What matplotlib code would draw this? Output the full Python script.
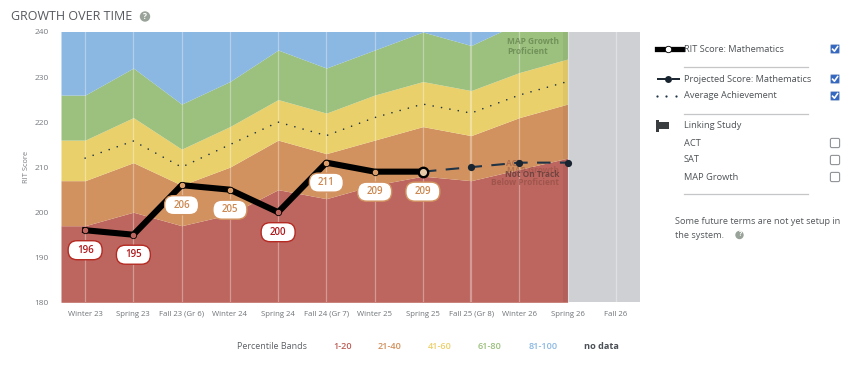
import numpy as np
import matplotlib
matplotlib.use('Agg')
import matplotlib.pyplot as plt
from matplotlib.patches import FancyBboxPatch, Circle, Rectangle, BoxStyle

plt.rcParams['font.family'] = ['Open Sans', 'DejaVu Sans']

# Data
terms = ['Winter 23', 'Spring 23', 'Fall 23 (Gr 6)', 'Winter 24', 'Spring 24', 'Fall 24 (Gr 7)',
         'Winter 25', 'Spring 25', 'Fall 25 (Gr 8)', 'Winter 26', 'Spring 26', 'Fall 26']
band_20 = [197, 200, 197, 199.5, 205, 203, 206, 208, 207, 209.5, 212]
band_40 = [207, 211, 206, 210, 216, 213, 216, 219, 217, 221, 224]
band_60 = [216, 221, 214, 219, 225, 222, 226, 229, 227, 231, 234]
band_80 = [226, 232, 224, 229, 236, 232, 236, 240, 237, 242, 245]
average = [212, 215.8, 210, 215, 220, 217, 221, 224, 222, 226, 229]
rit = [196, 195, 206, 205, 200, 211, 209, 209]
rit_band = ['r', 'r', 'o', 'o', 'r', 'o', 'o', 'o']
projected = [209, 210, 211, 211]

legend_bands = ['1-20', '21-40', '41-60', '61-80', '81-100', 'no data']
legend_colors = ['#bd5f58', '#d2905c', '#ecd06c', '#9cc07e', '#8ab8e2', '#4a4f55']
legend_x = [342.7, 390, 440, 490, 543, 601]

c_red, c_orange, c_yellow, c_green, c_blue = '#bd665f', '#d2925f', '#ead06b', '#9cc07e', '#8ab8e2'
c_gray = '#cfd0d4'
c_text = '#5c6166'
c_navy = '#1f3447'

fig = plt.figure(figsize=(8.5, 3.76), dpi=100)
ax = fig.add_axes([61 / 850, (376 - 302.3) / 376, 579 / 850, 270.3 / 376])

# bands run flat out to the left edge
n = len(band_20)
xs = np.r_[-0.5, np.arange(n)]
def ext(v):
    return np.r_[v[0], v]

# score labels are a fixed 34x19 pill whatever the text width
def pill(x0, y0, w, h, mutation_size):
    cx, cy = x0 + w / 2, y0 + h / 2
    return BoxStyle.Round(pad=0, rounding_size=9)(cx - 17, cy - 9.5, 34, 19, 1)

ax.fill_between(xs, 180, ext(band_20), color=c_red, lw=0, zorder=1)
ax.fill_between(xs, ext(band_20), ext(band_40), color=c_orange, lw=0, zorder=1)
ax.fill_between(xs, ext(band_40), ext(band_60), color=c_yellow, lw=0, zorder=1)
ax.fill_between(xs, ext(band_60), ext(band_80), color=c_green, lw=0, zorder=1)
ax.fill_between(xs, ext(band_80), 250, color=c_blue, lw=0, zorder=1)
ax.axvspan(n - 1, 11.5, color=c_gray, lw=0, zorder=1)
ax.axvspan(9.905, 10, color='black', alpha=0.05, lw=0, zorder=1.5)

for i in range(len(terms)):
    ax.axvline(i, color='white', alpha=0.35, lw=1.6 if i == 8 else 0.9, zorder=2)

# faint linking study labels behind the lines
ax.text(8.74, 237.9, 'MAP Growth', color='#5f7f4a', alpha=0.7, fontsize=6, fontweight='bold', va='center', ha='left', zorder=2.5)
ax.text(8.74, 235.6, 'Proficient', color='#5f7f4a', alpha=0.7, fontsize=6, fontweight='bold', va='center', ha='left', zorder=2.5)
ax.text(8.72, 210.7, 'ACT', color='#8c4a40', alpha=0.5, fontsize=6, fontweight='bold', va='center', ha='left', zorder=2.5)
ax.text(9.83, 209.2, 'MAP Growth', color='#8c4a40', alpha=0.45, fontsize=6, fontweight='bold', va='center', ha='right', zorder=2.5)
ax.text(9.83, 208.4, 'Not On Track', color='#5a3a36', alpha=0.75, fontsize=6, fontweight='bold', va='center', ha='right', zorder=2.5)
ax.text(9.83, 206.7, 'Below Proficient', color='#8c4a40', alpha=0.6, fontsize=6, fontweight='bold', va='center', ha='right', zorder=2.5)

ax.plot(range(n), average, color=c_navy, lw=1.2, dash_capstyle='round',
        linestyle=(0, (0.01, 5.1)), zorder=3)

px = np.arange(len(projected)) + len(rit) - 1
ax.plot(px, projected, color=c_navy, lw=1.5, linestyle=(0, (6.5, 4.5)), zorder=3)
ax.plot(px[1:], projected[1:], 'o', color='#18242f', ms=5.2, mew=0, zorder=3.5)

ax.plot(range(len(rit)), rit, color='black', lw=4.4, solid_joinstyle='round', zorder=4)
for i, v in enumerate(rit[:-1]):
    fc = c_red if rit_band[i] == 'r' else '#dc9f6c'
    ax.plot(i, v, 'o', ms=4.6, mfc=fc, mec='black', mew=0.6, zorder=5)
ax.plot(len(rit) - 1, rit[-1], 'o', ms=6.8, mfc='#e8c9a8', mec='black', mew=1.7, zorder=5)

for i, v in enumerate(rit):
    if rit_band[i] == 'r':
        edge, col = '#b52a22', '#b0191c'
    else:
        edge, col = '#d2925f', '#cc8850'
    ax.annotate(str(v), (i, v), xytext=(0, -14.4), textcoords='offset points', ha='center', va='center',
                color=col, fontsize=7, fontweight='semibold', zorder=6,
                bbox=dict(boxstyle=pill, fc='white', ec=edge, lw=1))

ax.set_xlim(-0.5, 11.5)
ax.set_ylim(180, 240)
ax.set_xticks(range(len(terms)))
ax.set_xticklabels(terms, fontsize=5.6, color='#6f7478')
ax.set_yticks(range(180, 241, 10))
ax.tick_params(axis='both', length=0)
ax.tick_params(axis='x', pad=6)
ax.tick_params(axis='y', labelsize=6, labelcolor='#777b80', pad=9)
for s in ax.spines.values():
    s.set_visible(False)

# everything around the chart sits on a pixel-sized overlay
ov = fig.add_axes([0, 0, 1, 1], zorder=-1)
ov.set_xlim(0, 850)
ov.set_ylim(376, 0)
ov.axis('off')

def help_icon(x, y, r, col):
    ov.add_patch(Circle((x, y), r, color=col, lw=0))
    ov.text(x, y, '?', color='white', fontsize=r * 1.15, fontweight='bold', ha='center', va='center')

def check_box(x, y, on):
    s = 9.2
    if on:
        ov.add_patch(FancyBboxPatch((x - s / 2, y - s / 2), s, s, boxstyle='round,pad=0,rounding_size=1.5',
                                    fc='#3568c0', ec='#b9c6dc', lw=0.6))
        ov.plot([x - 2.4, x - 0.6, x + 2.6], [y + 0.2, y + 2.2, y - 2.4], color='white', lw=1.2)
    else:
        ov.add_patch(FancyBboxPatch((x - s / 2, y - s / 2), s, s, boxstyle='round,pad=0,rounding_size=1.5',
                                    fc='white', ec='#8f9397', lw=0.8))

ov.text(11, 16.5, 'GROWTH OVER TIME', color='#55595d', fontsize=9, va='center', ha='left')
help_icon(145, 16.5, 5.2, '#9aa39a')
ov.text(27, 167, 'RIT Score', rotation=90, color='#777b80', fontsize=5.4, va='center', ha='center')

ov.text(271.7, 346.7, 'Percentile Bands', color=c_text, fontsize=6.5, va='center', ha='center')
for lab, col, x in zip(legend_bands, legend_colors, legend_x):
    ov.text(x, 346.7, lab, color=col, fontsize=6.6, fontweight='bold' if lab == 'no data' else 'semibold',
            va='center', ha='center')

# side legend
side_rows = [('RIT Score: Mathematics', 49, True), ('Projected Score: Mathematics', 79, True),
             ('Average Achievement', 96, True), ('ACT', 143, False), ('SAT', 160, False),
             ('MAP Growth', 177, False)]
for lab, y, on in side_rows:
    ov.text(684, y, lab, color='#4e5357', fontsize=6.65, va='center', ha='left')
    check_box(835, y, on)
ov.text(684, 125.7, 'Linking Study', color='#4e5357', fontsize=6.65, va='center', ha='left')
for y in [67.3, 114, 194.3]:
    ov.plot([684, 807.7], [y, y], color='#c4c6c8', lw=0.9)

ov.plot([657, 682], [49, 49], color='black', lw=3.8)
ov.plot([668], [49], 'o', ms=4.6, mfc='white', mec='black', mew=0.6)
ov.plot([657, 680], [79, 79], color='#18242f', lw=1.4, linestyle=(0, (6.3, 1.2)))
ov.plot([668], [79], 'o', ms=5, color='#18242f', mew=0)
ov.plot([657, 666.3, 675.7], [96, 96, 96], 'o', ms=1.6, color=c_navy, mew=0)
ov.add_patch(Rectangle((656, 120), 2.6, 11.5, color='#3a3d40', lw=0))
ov.add_patch(Rectangle((657, 122), 12.5, 6.5, color='#3a3d40', lw=0))

ov.text(675, 221.7, 'Some future terms are not yet setup in', color='#55595d', fontsize=6.6, va='center', ha='left')
ov.text(675, 235.3, 'the system.', color='#55595d', fontsize=6.6, va='center', ha='left')
help_icon(739.5, 235, 4.2, '#9aa39a')

fig.savefig('out.png', dpi=100)
